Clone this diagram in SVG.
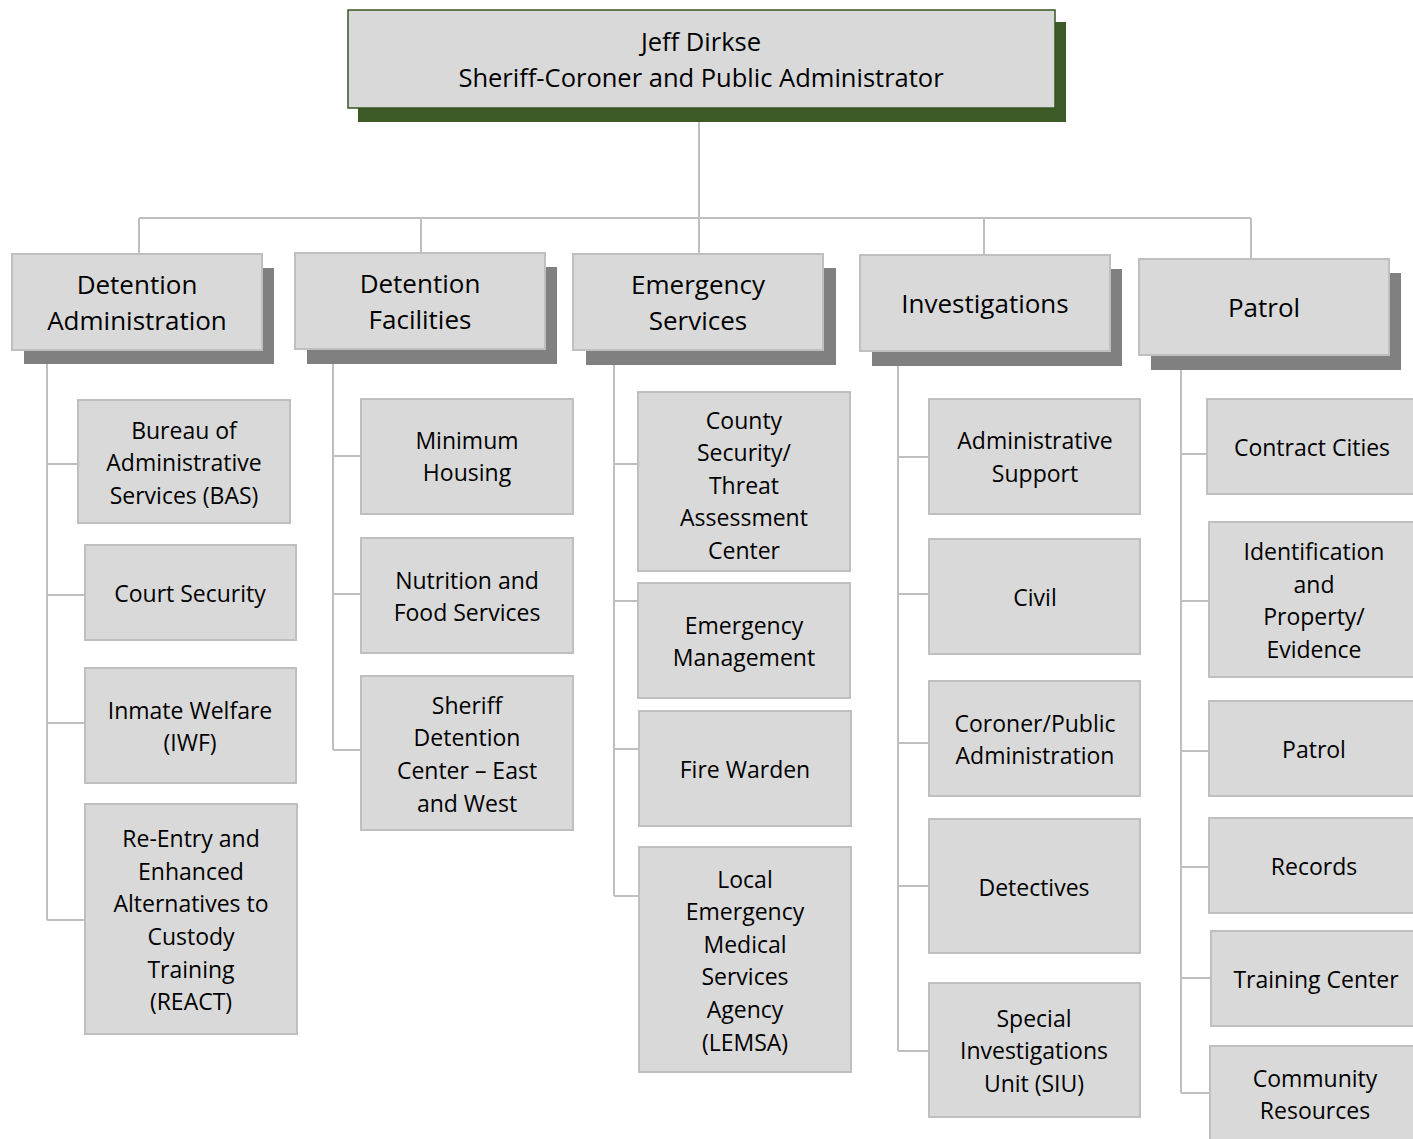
<svg xmlns="http://www.w3.org/2000/svg" width="1413" height="1139" viewBox="0 0 1413 1139">
<style>
text{font-family:"Open Sans","Noto Sans","DejaVu Sans",sans-serif;fill:#000;text-anchor:middle;dominant-baseline:central}
.t{font-size:25.5px}
.h{font-size:26px}
.s{font-size:23px}
.box{fill:#d9d9d9;stroke:#bfbfbf;stroke-width:2}
.top{fill:#d9d9d9;stroke:#375623;stroke-width:1.5}
.tsh{fill:#3b5a25}
.hsh{fill:#808080}
.c{fill:none;stroke:#bfbfbf;stroke-width:2}
</style>
<rect width="1413" height="1139" fill="#fff"/>
<g id="connectors">
<path class="c" d="M699 108V218M139 218H1251M139 218V254M421 218V253M699 218V254M984 218V255M1251 218V259"/>
<path class="c" d="M47 364V920M47 464H78M47 595H85M47 723H85M47 920H85"/>
<path class="c" d="M333 364V750M333 456H361M333 594H361M333 750H361"/>
<path class="c" d="M614 365V896M614 464H638M614 601H638M614 749H639M614 896H639"/>
<path class="c" d="M898 366V1051M898 457H929M898 594H929M898 743H929M898 886H929M898 1051H929"/>
<path class="c" d="M1181 370V1093M1181 454H1207M1181 601H1209M1181 751H1209M1181 867H1209M1181 978H1211M1181 1093H1210"/>
</g>
<g id="sheriff">
<rect class="tsh" x="358" y="22" width="708" height="100"/>
<rect class="top" x="348" y="10" width="707" height="98"/>
<text class="t" x="701" y="41">Jeff Dirkse</text>
<text class="t" x="701" y="77">Sheriff-Coroner and Public Administrator</text>
</g>
<g id="detention-administration">
<rect class="hsh" x="24" y="268" width="250" height="96"/>
<rect class="box" x="12" y="254" width="250" height="96"/>
<text class="h" x="137" y="284">Detention</text>
<text class="h" x="137" y="320">Administration</text>
</g>
<g id="detention-facilities">
<rect class="hsh" x="307" y="267" width="250" height="97"/>
<rect class="box" x="295" y="253" width="250" height="96"/>
<text class="h" x="420" y="283">Detention</text>
<text class="h" x="420" y="319">Facilities</text>
</g>
<g id="emergency-services">
<rect class="hsh" x="586" y="268" width="250" height="97"/>
<rect class="box" x="573" y="254" width="250" height="96"/>
<text class="h" x="698" y="284">Emergency</text>
<text class="h" x="698" y="320">Services</text>
</g>
<g id="investigations">
<rect class="hsh" x="872" y="269" width="250" height="97"/>
<rect class="box" x="860" y="255" width="250" height="96"/>
<text class="h" x="985" y="303">Investigations</text>
</g>
<g id="patrol-division">
<rect class="hsh" x="1151" y="273" width="250" height="97"/>
<rect class="box" x="1139" y="259" width="250" height="96"/>
<text class="h" x="1264" y="307">Patrol</text>
</g>
<g id="bas">
<rect class="box" x="78" y="400" width="212" height="123"/>
<text class="s" x="184" y="430">Bureau of</text>
<text class="s" x="184" y="462">Administrative</text>
<text class="s" x="184" y="495">Services (BAS)</text>
</g>
<g id="court-security">
<rect class="box" x="85" y="545" width="211" height="95"/>
<text class="s" x="190" y="593">Court Security</text>
</g>
<g id="inmate-welfare">
<rect class="box" x="85" y="668" width="211" height="115"/>
<text class="s" x="190" y="710">Inmate Welfare</text>
<text class="s" x="190" y="742">(IWF)</text>
</g>
<g id="react">
<rect class="box" x="85" y="804" width="212" height="230"/>
<text class="s" x="191" y="838">Re-Entry and</text>
<text class="s" x="191" y="871">Enhanced</text>
<text class="s" x="191" y="903">Alternatives to</text>
<text class="s" x="191" y="936">Custody</text>
<text class="s" x="191" y="969">Training</text>
<text class="s" x="191" y="1001">(REACT)</text>
</g>
<g id="minimum-housing">
<rect class="box" x="361" y="399" width="212" height="115"/>
<text class="s" x="467" y="440">Minimum</text>
<text class="s" x="467" y="472">Housing</text>
</g>
<g id="nutrition">
<rect class="box" x="361" y="538" width="212" height="115"/>
<text class="s" x="467" y="580">Nutrition and</text>
<text class="s" x="467" y="612">Food Services</text>
</g>
<g id="sheriff-detention-center">
<rect class="box" x="361" y="676" width="212" height="154"/>
<text class="s" x="467" y="705">Sheriff</text>
<text class="s" x="467" y="737">Detention</text>
<text class="s" x="467" y="770">Center – East</text>
<text class="s" x="467" y="803">and West</text>
</g>
<g id="county-security">
<rect class="box" x="638" y="392" width="212" height="179"/>
<text class="s" x="744" y="420">County</text>
<text class="s" x="744" y="452">Security/</text>
<text class="s" x="744" y="485">Threat</text>
<text class="s" x="744" y="517">Assessment</text>
<text class="s" x="744" y="550">Center</text>
</g>
<g id="emergency-management">
<rect class="box" x="638" y="583" width="212" height="115"/>
<text class="s" x="744" y="625">Emergency</text>
<text class="s" x="744" y="657">Management</text>
</g>
<g id="fire-warden">
<rect class="box" x="639" y="711" width="212" height="115"/>
<text class="s" x="745" y="769">Fire Warden</text>
</g>
<g id="lemsa">
<rect class="box" x="639" y="847" width="212" height="225"/>
<text class="s" x="745" y="879">Local</text>
<text class="s" x="745" y="911">Emergency</text>
<text class="s" x="745" y="944">Medical</text>
<text class="s" x="745" y="976">Services</text>
<text class="s" x="745" y="1009">Agency</text>
<text class="s" x="745" y="1042">(LEMSA)</text>
</g>
<g id="administrative-support">
<rect class="box" x="929" y="399" width="211" height="115"/>
<text class="s" x="1035" y="440">Administrative</text>
<text class="s" x="1035" y="473">Support</text>
</g>
<g id="civil">
<rect class="box" x="929" y="539" width="211" height="115"/>
<text class="s" x="1035" y="597">Civil</text>
</g>
<g id="coroner">
<rect class="box" x="929" y="681" width="211" height="115"/>
<text class="s" x="1035" y="723">Coroner/Public</text>
<text class="s" x="1035" y="755">Administration</text>
</g>
<g id="detectives">
<rect class="box" x="929" y="819" width="211" height="134"/>
<text class="s" x="1034" y="887">Detectives</text>
</g>
<g id="siu">
<rect class="box" x="929" y="983" width="211" height="134"/>
<text class="s" x="1034" y="1018">Special</text>
<text class="s" x="1034" y="1050">Investigations</text>
<text class="s" x="1034" y="1083">Unit (SIU)</text>
</g>
<g id="contract-cities">
<rect class="box" x="1207" y="399" width="214" height="95"/>
<text class="s" x="1312" y="447">Contract Cities</text>
</g>
<g id="identification">
<rect class="box" x="1209" y="522" width="212" height="155"/>
<text class="s" x="1314" y="551">Identification</text>
<text class="s" x="1314" y="584">and</text>
<text class="s" x="1314" y="616">Property/</text>
<text class="s" x="1314" y="649">Evidence</text>
</g>
<g id="patrol">
<rect class="box" x="1209" y="701" width="212" height="95"/>
<text class="s" x="1314" y="749">Patrol</text>
</g>
<g id="records">
<rect class="box" x="1209" y="818" width="212" height="95"/>
<text class="s" x="1314" y="866">Records</text>
</g>
<g id="training-center">
<rect class="box" x="1211" y="931" width="212" height="95"/>
<text class="s" x="1316" y="979">Training Center</text>
</g>
<g id="community-resources">
<rect class="box" x="1210" y="1046" width="212" height="100"/>
<text class="s" x="1315" y="1078">Community</text>
<text class="s" x="1315" y="1110">Resources</text>
</g>
</svg>
